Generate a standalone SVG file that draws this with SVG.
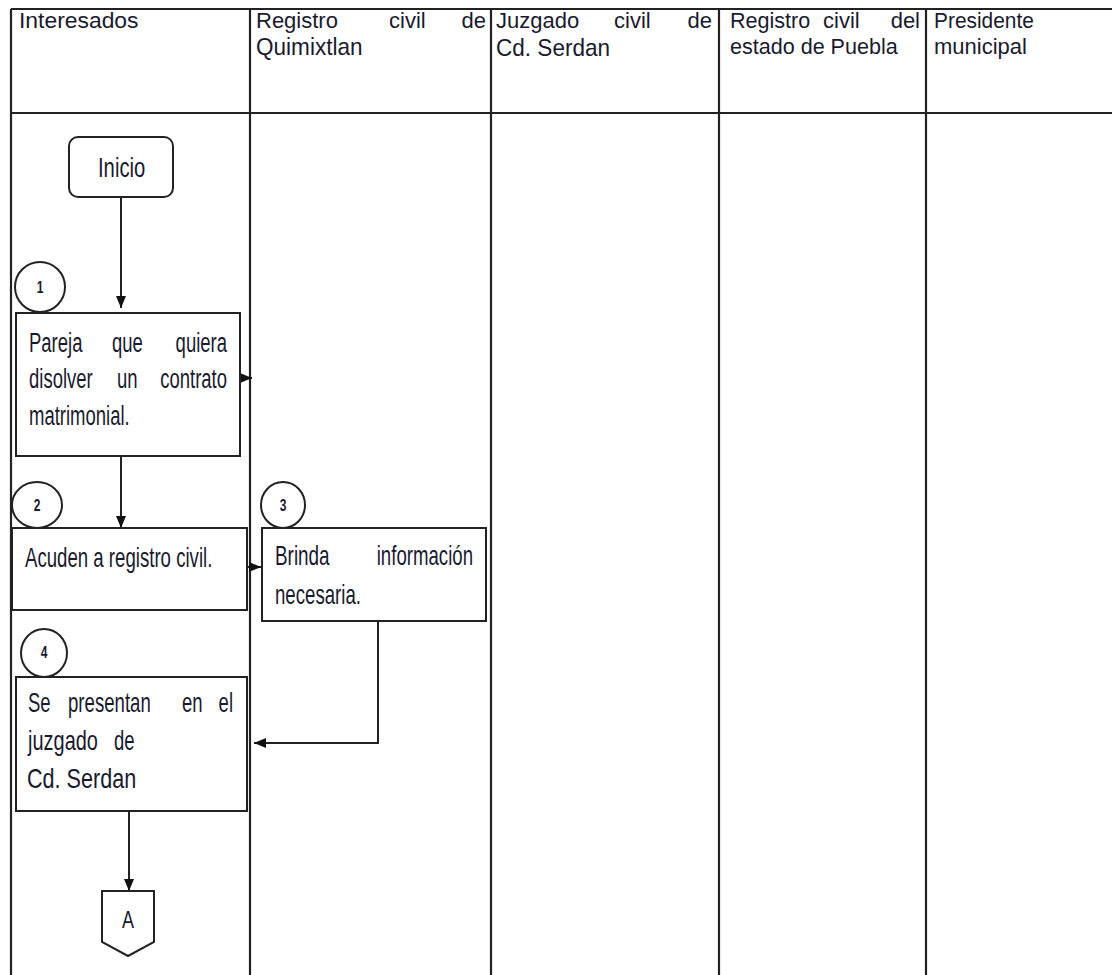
<svg xmlns="http://www.w3.org/2000/svg" width="1112" height="975" viewBox="0 0 1112 975">
<style>
.bg{fill:#ffffff}
.grid{stroke:#222;stroke-width:2.2;fill:none}
.box{fill:#fff;stroke:#222;stroke-width:2}
.t{font-family:"Liberation Sans",Arial,sans-serif;font-size:27px;fill:#1a1a2e}
.h{font-family:"Liberation Sans",Arial,sans-serif;font-size:22px;fill:#1a1a2e}
.h2{font-family:"Liberation Sans",Arial,sans-serif;font-size:24px;fill:#1a1a2e}
.e{text-anchor:end}
.n{font-family:"Liberation Sans",Arial,sans-serif;font-size:16px;font-weight:bold;fill:#1a1a2e;text-anchor:middle}
.c{stroke:#222;stroke-width:2;fill:none}
</style>
<defs>
<marker id="ah" viewBox="0 0 12 10" refX="12" refY="5" markerWidth="12" markerHeight="10" markerUnits="userSpaceOnUse" orient="auto">
<path d="M0,0 L12,5 L0,10 z" fill="#111"/>
</marker>
</defs>
<rect class="bg" x="0" y="0" width="1112" height="975"/>
<g id="lanes">
<path class="grid" d="M11,9 H1112 M11,113 H1112 M11,9 V975 M250,9 V975 M491,9 V975 M719,9 V975 M926,9 V975"/>
<text class="h" transform="translate(19,28) scale(1.04,1)">Interesados</text>
<text class="h" transform="translate(256,28)">Registro</text>
<text class="h" transform="translate(389,28)">civil</text>
<text class="h e" transform="translate(486,28)">de</text>
<text class="h2" transform="translate(256,55) scale(0.94,1)">Quimixtlan</text>
<text class="h" transform="translate(496,28)">Juzgado</text>
<text class="h" transform="translate(614,28)">civil</text>
<text class="h e" transform="translate(712,28)">de</text>
<text class="h2" transform="translate(496,56) scale(0.94,1)">Cd. Serdan</text>
<text class="h" transform="translate(730,28) scale(0.98,1)">Registro</text>
<text class="h" transform="translate(823,28)">civil</text>
<text class="h e" transform="translate(920,28)">del</text>
<text class="h" transform="translate(730,54) scale(0.98,1)">estado de Puebla</text>
<text class="h" transform="translate(934,28) scale(0.95,1)">Presidente</text>
<text class="h" transform="translate(934,54)">municipal</text>
</g>
<g id="connectors">
<path class="c" d="M121,197 V308" marker-end="url(#ah)"/>
<path class="c" d="M240,378 H252" marker-end="url(#ah)"/>
<path class="c" d="M121,456 V528" marker-end="url(#ah)"/>
<path class="c" d="M247,567 H261" marker-end="url(#ah)"/>
<path class="c" d="M378,621 V743 H254" marker-end="url(#ah)"/>
<path class="c" d="M129,811 V891" marker-end="url(#ah)"/>
</g>
<g id="inicio">
<rect class="box" x="69" y="137" width="104" height="60" rx="9"/>
<text class="t" transform="translate(98,177) scale(0.75,1)">Inicio</text>
</g>
<g id="step1">
<ellipse class="box" cx="40" cy="287" rx="25" ry="25"/>
<text class="n" transform="translate(40,293) scale(0.75,1)">1</text>
<rect class="box" x="16" y="313" width="224" height="143"/>
<text class="t" transform="translate(29,352) scale(0.685,1)">Pareja</text>
<text class="t" transform="translate(112,352) scale(0.685,1)">que</text>
<text class="t e" transform="translate(227,352) scale(0.685,1)">quiera</text>
<text class="t" transform="translate(29,388) scale(0.685,1)">disolver</text>
<text class="t" transform="translate(117,388) scale(0.685,1)">un</text>
<text class="t e" transform="translate(227,388) scale(0.685,1)">contrato</text>
<text class="t" transform="translate(29,425) scale(0.685,1)">matrimonial.</text>
</g>
<g id="step2">
<ellipse class="box" cx="37" cy="505" rx="25" ry="23"/>
<text class="n" transform="translate(37,511) scale(0.75,1)">2</text>
<rect class="box" x="12" y="528" width="235" height="82"/>
<text class="t" transform="translate(25,567) scale(0.69,1)">Acuden a registro civil.</text>
</g>
<g id="step3">
<ellipse class="box" cx="283" cy="505" rx="22" ry="23"/>
<text class="n" transform="translate(283,511) scale(0.75,1)">3</text>
<rect class="box" x="262" y="528" width="224" height="93"/>
<text class="t" transform="translate(275,565) scale(0.7,1)">Brinda</text>
<text class="t e" transform="translate(473,565) scale(0.69,1)">información</text>
<text class="t" transform="translate(275,604) scale(0.69,1)">necesaria.</text>
</g>
<g id="step4">
<ellipse class="box" cx="44" cy="653" rx="23" ry="24"/>
<text class="n" transform="translate(44,658) scale(0.75,1)">4</text>
<rect class="box" x="16" y="677" width="231" height="134"/>
<text class="t" transform="translate(28,712) scale(0.685,1)">Se</text>
<text class="t" transform="translate(68,712) scale(0.69,1)">presentan</text>
<text class="t" transform="translate(182,712) scale(0.685,1)">en</text>
<text class="t e" transform="translate(233,712) scale(0.685,1)">el</text>
<text class="t" transform="translate(28,750) scale(0.74,1)">juzgado</text>
<text class="t" transform="translate(114,750) scale(0.685,1)">de</text>
<text class="t" transform="translate(27,788) scale(0.8,1)">Cd. Serdan</text>
</g>
<g id="connectorA">
<polygon class="box" points="102,891 154,891 154,942 128,956 102,942"/>
<text class="t" transform="translate(128,928) scale(0.75,1)" style="font-size:24px;text-anchor:middle">A</text>
</g>
</svg>
